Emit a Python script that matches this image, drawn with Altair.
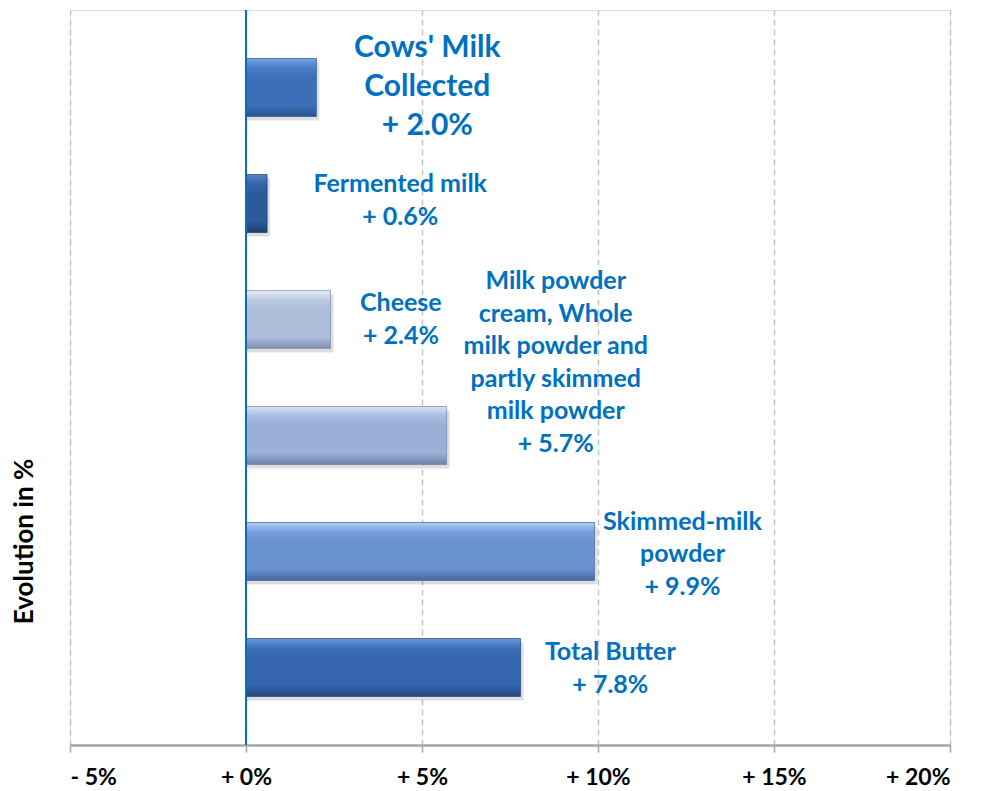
import altair as alt
import pandas as pd

# ---- data ----
categories = ["Cows' Milk\nCollected", "Fermented milk", "Cheese",
              "Milk powder\ncream, Whole\nmilk powder and\npartly skimmed\nmilk powder",
              "Skimmed-milk\npowder", "Total Butter"]
values = [2.0, 0.6, 2.4, 5.7, 9.9, 7.8]
tick_values = [-5, 0, 5, 10, 15, 20]
tick_labels = ["- 5%", "+ 0%", "+ 5%", "+ 10%", "+ 15%", "+ 20%"]
y_title = "Evolution in %"

# ---- layout / style (not data) ----
label_x = [5.15, 4.38, 4.4, 8.8, 12.4, 10.35]      # label centre, in axis units
label_shift = [0, -3, 0, -73, 3, 1]                 # block centre shift vs bar centre (px)
label_size = [30, 25, 25, 25, 25, 25]
label_lh = [39, 32.6, 32.6, 32.6, 32.6, 32.6]
bar_colors = [
    ["#74a4e4", "#4a7ec8", "#3c6fb8", "#2b5590"],
    ["#5a86c6", "#3565a8", "#2d5a9a", "#1f3f6e"],
    ["#e6ecf6", "#bccae2", "#aebdd9", "#7f8fae"],
    ["#dae5f5", "#a9bde0", "#9bb0d6", "#6f83a8"],
    ["#b0cdf2", "#7aa0db", "#6a92cf", "#46679a"],
    ["#6a98d8", "#3f72bb", "#3566ae", "#23477e"],
]
BLUE = "#0070C0"
FONT = "Lato"

df = pd.DataFrame({
    "product": categories,
    "value": values,
    "label": [f"{c}\n+ {v:.1f}%" for c, v in zip(categories, values)],
})

label_expr = "[" + ",".join(f"'{t}'" for t in tick_labels) + f"][(datum.value - ({tick_values[0]})) / 5]"

x_scale = alt.Scale(domain=[tick_values[0], tick_values[-1]], nice=False, zero=False)
y_scale = alt.Scale(domain=categories, paddingInner=0.5, paddingOuter=0.418)

x_enc = alt.X("value:Q", scale=x_scale,
              axis=alt.Axis(values=tick_values, labelExpr=label_expr, title=None,
                            grid=True, gridDash=[6, 4], gridColor="#c4c4c4", gridWidth=1.5,
                            domainColor="#a6a6a6", domainWidth=2.5,
                            tickColor="#a6a6a6", tickSize=7, tickWidth=1.5,
                            labelFont=FONT, labelFontWeight="bold", labelFontSize=23,
                            labelColor="#000000", labelPadding=14))
y_enc = alt.Y("product:N", scale=y_scale, sort=categories,
              axis=alt.Axis(title=y_title, labels=False, ticks=False, domain=False, grid=False,
                            titleFont=FONT, titleFontWeight="bold", titleFontSize=26,
                            titleColor="#000000", titleAngle=-90, titleX=-46, titleY=531,
                            titleAlign="center", titleBaseline="middle"))

base = alt.Chart(df)

layers = []
# soft shadows
layers.append(base.mark_bar(color="#000000", opacity=0.13, xOffset=3, yOffset=4, cornerRadius=2)
              .encode(x=x_enc, x2=alt.datum(0), y=y_enc))

for i, cat in enumerate(categories):
    c = bar_colors[i]
    grad = alt.Gradient(gradient="linear", x1=0, x2=0, y1=0, y2=1,
                        stops=[alt.GradientStop(color=c[0], offset=0),
                               alt.GradientStop(color=c[1], offset=0.16),
                               alt.GradientStop(color=c[2], offset=0.32),
                               alt.GradientStop(color=c[2], offset=0.8),
                               alt.GradientStop(color=c[3], offset=1)])
    layers.append(
        base.transform_filter(alt.datum.product == cat)
        .mark_bar(color=grad, stroke=c[3], strokeWidth=1, strokeOpacity=0.7)
        .encode(x=x_enc, x2=alt.datum(0), y=y_enc)
    )

for i, cat in enumerate(categories):
    n_lines = df["label"][i].count("\n") + 1
    dy = label_shift[i] - (n_lines - 1) / 2 * label_lh[i]
    layers.append(
        base.transform_filter(alt.datum.product == cat)
        .mark_text(font=FONT, fontWeight="bold", fontSize=label_size[i], lineHeight=label_lh[i],
                   lineBreak="\n", color=BLUE, align="center", baseline="middle", dy=dy)
        .encode(x=alt.datum(label_x[i]), y=y_enc, text="label:N")
    )

zero_rule = alt.Chart(df).mark_rule(color=BLUE, strokeWidth=2).encode(x=alt.datum(0))
layers.append(zero_rule)

chart = alt.layer(*layers).properties(
    width=880, height=735,
    autosize=alt.AutoSizeParams(type="none"),
    padding={"left": 62, "top": 2, "right": 28, "bottom": 45},
).configure_view(stroke="#c4c4c4", strokeWidth=2.5).configure(background="white")

chart.save("out.html", embed_options={"renderer": "svg", "actions": False})
